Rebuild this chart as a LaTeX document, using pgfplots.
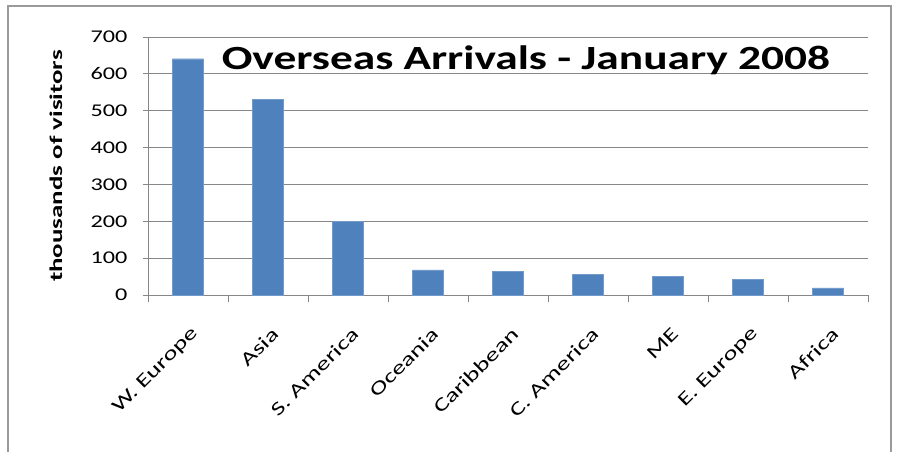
\documentclass[border=0pt]{standalone}
\usepackage{graphicx}
\usepackage{pgfplots}
\pgfplotsset{compat=1.18}
\usepackage{fontspec}
\setmainfont{Carlito}
\definecolor{barblue}{HTML}{4F81BD}
\definecolor{axgray}{HTML}{878787}
\definecolor{framegray}{HTML}{9A9A9A}
\newcommand{\xs}[1]{\scalebox{1.42}[1]{#1}}
\newcommand{\ys}[1]{\scalebox{1.35}[1]{#1}}
\begin{document}
\begin{tikzpicture}
\useasboundingbox (-148bp,-157bp) rectangle (749bp,295bp);
\draw[framegray, line width=1.3bp] (-140bp,-170bp) -- (-140bp,289bp) -- (743bp,289bp) -- (743bp,-170bp);
\begin{axis}[
  scale only axis,
  width=720bp, height=258bp,
  xmin=-0.5, xmax=8.5,
  ymin=0, ymax=700,
  ytick={0,100,...,700},
  yticklabels={\ys{0},\ys{100},\ys{200},\ys{300},\ys{400},\ys{500},\ys{600},\ys{700}},
  xtick={0,...,8},
  xticklabels={\xs{W. Europe}, \xs{Asia}, \xs{S. America}, \xs{Oceania}, \xs{Caribbean}, \xs{C. America}, \xs{ME}, \xs{E. Europe}, \xs{Africa}},
  xtick style={draw=none},
  extra x ticks={-0.5,0.5,...,8.5},
  extra x tick labels={},
  extra x tick style={xtick style={draw=axgray, line width=0.8bp}, major tick length=7bp},
  ytick style={draw=axgray, line width=0.8bp},
  major tick length=5bp,
  tick align=outside,
  axis x line*=bottom,
  axis y line*=left,
  axis line style={draw=axgray, line width=0.9bp, -},
  ymajorgrids,
  grid style={draw=axgray, line width=0.9bp},
  tick label style={font=\fontsize{18}{20}\selectfont, text=black},
  yticklabel style={xshift=-12bp},
  xticklabel style={rotate=45, anchor=east, font=\fontsize{19}{21}\selectfont, xshift=-13.5bp, yshift=-27bp},
  ylabel={\scalebox{1.5}[1]{thousands of visitors}},
  ylabel style={at={(axis description cs:-0.128,0.5)}, anchor=center, font=\bfseries\fontsize{18}{20}\selectfont},
  title={\scalebox{1.34}[1]{Overseas Arrivals - January 2008}},
  title style={at={(axis description cs:0.525,0.886)}, anchor=center, font=\bfseries\fontsize{34}{40}\selectfont},
  clip=false,
]
\addplot[ybar, bar width=31bp, fill=barblue, draw=barblue!80!white] coordinates {
  (0,641) (1,530) (2,199) (3,68) (4,65) (5,56) (6,51) (7,43) (8,19)
};
\end{axis}
\end{tikzpicture}
\end{document}
